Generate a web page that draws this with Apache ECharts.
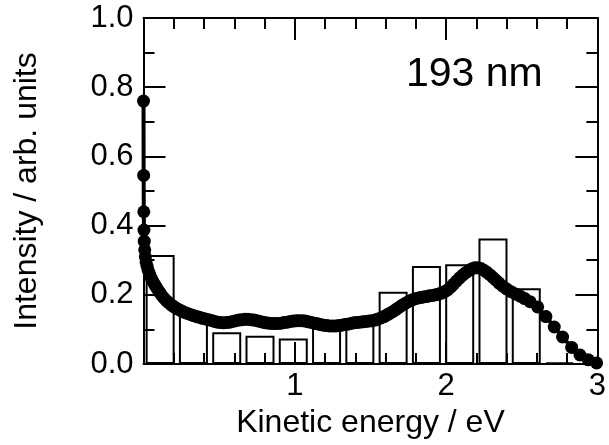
<!DOCTYPE html>
<html>
<head>
<meta charset="utf-8">
<script src="https://cdn.jsdelivr.net/npm/echarts@6/dist/echarts.min.js"></script>
<style>html,body{margin:0;padding:0;background:#fff;}#c{width:609px;height:445px;}</style>
</head>
<body>
<div id="c"></div>
<script>
// Histogram bins: centers (eV) and heights
var binCenters = [0.11, 0.33, 0.55, 0.77, 0.99, 1.21, 1.43, 1.65, 1.87, 2.09, 2.31, 2.53, 2.75];
var binHeights = [0.315, 0.145, 0.092, 0.082, 0.074, 0.11, 0.115, 0.209, 0.283, 0.288, 0.363, 0.219, 0.005];

// Measured spectrum: kinetic energy (eV) and intensity
var energy = [0.000,0.001,0.002,0.003,0.005,0.008,0.012,0.017,0.023,0.030,0.038,0.047,0.057,0.068,0.080,0.093,0.107,0.121,0.136,0.151,0.167,0.183,0.200,0.217,0.235,0.253,0.272,0.291,0.310,0.330,0.350,0.370,0.390,0.410,0.430,0.450,0.470,0.490,0.510,0.530,0.550,0.570,0.590,0.610,0.630,0.650,0.670,0.690,0.710,0.730,0.750,0.770,0.790,0.810,0.830,0.850,0.870,0.890,0.910,0.930,0.950,0.970,0.990,1.010,1.030,1.050,1.070,1.090,1.110,1.130,1.150,1.170,1.190,1.210,1.230,1.250,1.270,1.290,1.310,1.330,1.350,1.370,1.390,1.410,1.430,1.450,1.470,1.490,1.510,1.530,1.550,1.570,1.590,1.610,1.630,1.650,1.670,1.690,1.710,1.730,1.750,1.770,1.790,1.810,1.830,1.850,1.870,1.890,1.910,1.930,1.950,1.970,1.990,2.010,2.030,2.050,2.070,2.090,2.110,2.130,2.150,2.170,2.190,2.210,2.230,2.250,2.270,2.290,2.310,2.330,2.350,2.375,2.400,2.430,2.460,2.490,2.520,2.555,2.605,2.660,2.715,2.770,2.830,2.885,2.940,2.995];
var intensity = [0.760,0.545,0.440,0.387,0.355,0.330,0.310,0.295,0.283,0.272,0.262,0.252,0.243,0.234,0.225,0.216,0.207,0.198,0.190,0.183,0.177,0.171,0.166,0.161,0.157,0.153,0.149,0.146,0.143,0.140,0.137,0.135,0.132,0.130,0.128,0.126,0.123,0.121,0.120,0.119,0.120,0.121,0.123,0.125,0.127,0.128,0.129,0.129,0.128,0.127,0.125,0.123,0.121,0.119,0.118,0.117,0.117,0.117,0.118,0.120,0.121,0.123,0.124,0.125,0.125,0.125,0.124,0.122,0.120,0.118,0.116,0.114,0.112,0.111,0.110,0.110,0.110,0.111,0.112,0.114,0.115,0.117,0.119,0.120,0.121,0.122,0.123,0.124,0.125,0.127,0.130,0.133,0.137,0.142,0.147,0.152,0.158,0.164,0.170,0.175,0.180,0.184,0.188,0.190,0.192,0.194,0.195,0.197,0.198,0.200,0.202,0.205,0.209,0.214,0.222,0.231,0.240,0.249,0.257,0.264,0.270,0.275,0.278,0.278,0.276,0.271,0.265,0.258,0.250,0.242,0.234,0.225,0.217,0.209,0.202,0.196,0.189,0.180,0.165,0.137,0.107,0.078,0.048,0.026,0.012,0.003];

var xTicks = ['', '1', '2', '3'];
var yTicks = ['0.0', '0.2', '0.4', '0.6', '0.8', '1.0'];

var FONT = 'Liberation Sans, Arial, sans-serif';
var barData = binCenters.map(function (c, i) { return [c, binHeights[i]]; });
var lineData = energy.map(function (e, i) { return [e, intensity[i]]; });

var axisCommon = {
  axisLine: { show: true, onZero: false, lineStyle: { color: '#000', width: 2 } },
  axisTick: { show: true, inside: true, length: 22, lineStyle: { color: '#000', width: 2 } },
  splitLine: { show: false },
  minorSplitLine: { show: false }
};

function merge(a, b) { var o = {}; for (var k in a) o[k] = a[k]; for (var k2 in b) o[k2] = b[k2]; return o; }

var chart = echarts.init(document.getElementById('c'), null, { renderer: 'canvas' });
chart.setOption({
  animation: false,
  backgroundColor: '#fff',
  grid: { left: 143.5, right: 7, top: 18, bottom: 81, containLabel: false },
  xAxis: [
    merge(axisCommon, {
      type: 'value', min: 0, max: 3, interval: 1, position: 'bottom',
      minorTick: { show: true, splitNumber: 5, length: 11, lineStyle: { color: '#000', width: 2 } },
      axisLabel: { show: true, fontFamily: FONT, fontSize: 31, color: '#000', margin: 7,
        formatter: function (v) { return xTicks[Math.round(v)]; } },
      name: 'Kinetic energy / eV', nameLocation: 'middle', nameGap: 40,
      nameTextStyle: { fontFamily: FONT, fontSize: 32, color: '#000' }
    }),
    merge(axisCommon, {
      type: 'value', min: 0, max: 3, interval: 1, position: 'top',
      minorTick: { show: true, splitNumber: 5, length: 11, lineStyle: { color: '#000', width: 2 } },
      axisLabel: { show: false }
    })
  ],
  yAxis: [
    merge(axisCommon, {
      type: 'value', min: 0, max: 1, interval: 0.2, position: 'left',
      minorTick: { show: true, splitNumber: 2, length: 11, lineStyle: { color: '#000', width: 2 } },
      axisLabel: { show: true, fontFamily: FONT, fontSize: 31, color: '#000', margin: 10,
        formatter: function (v) { return yTicks[Math.round(v * 5)]; } },
      name: 'Intensity / arb. units', nameLocation: 'middle', nameGap: 100, nameRotate: 90,
      nameTextStyle: { fontFamily: FONT, fontSize: 32, color: '#000' }
    }),
    merge(axisCommon, {
      type: 'value', min: 0, max: 1, interval: 0.2, position: 'right',
      minorTick: { show: true, splitNumber: 2, length: 11, lineStyle: { color: '#000', width: 2 } },
      axisLabel: { show: false }
    })
  ],
  graphic: [{
    type: 'text', left: 406, top: 54,
    style: { text: '193 nm', fontFamily: FONT, fontSize: 41, fill: '#000' }
  }],
  series: [
    {
      type: 'bar', xAxisIndex: 0, yAxisIndex: 0, data: barData, barWidth: 29, z: 1,
      itemStyle: { color: 'rgba(0,0,0,0)', borderColor: '#000', borderWidth: 2 }
    },
    {
      type: 'line', xAxisIndex: 0, yAxisIndex: 0, data: lineData, z: 3,
      symbol: 'circle', symbolSize: 13, showSymbol: true, showAllSymbol: true,
      lineStyle: { color: '#000', width: 4 },
      itemStyle: { color: '#000', borderWidth: 0 }
    }
  ]
});
</script>
</body>
</html>
